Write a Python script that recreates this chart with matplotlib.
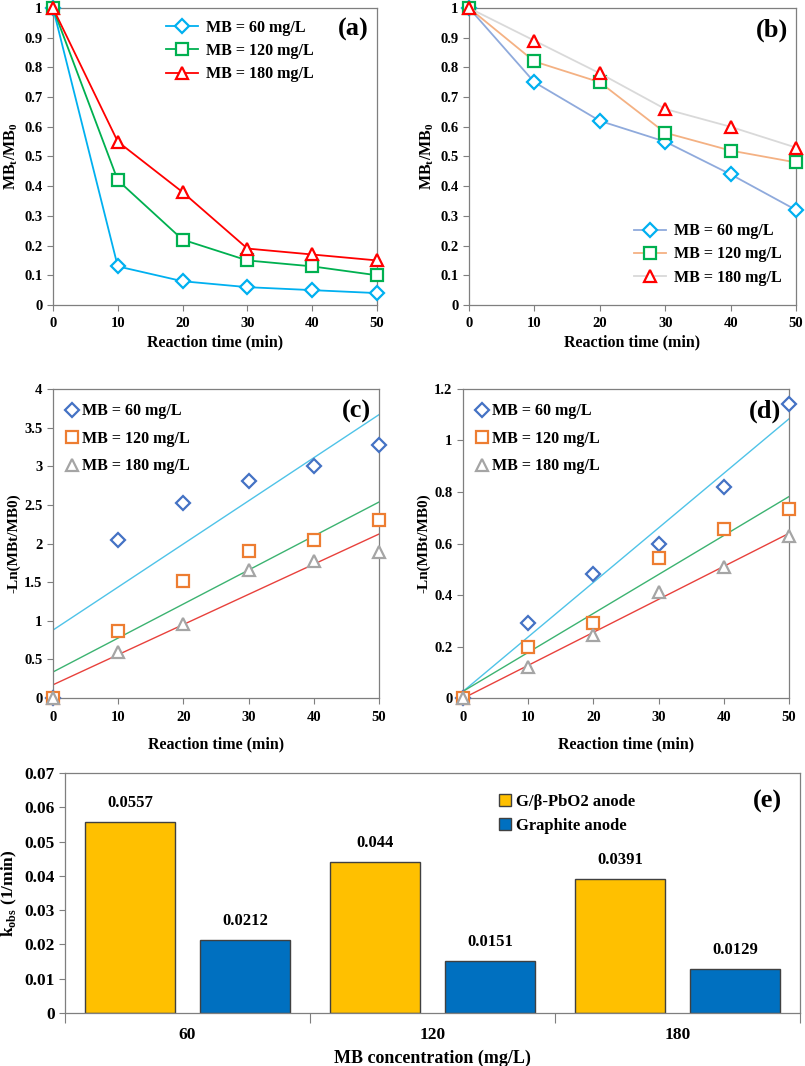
import matplotlib; matplotlib.use("Agg")
import matplotlib.pyplot as plt
import numpy as np

plt.rcParams.update({"font.family": "Liberation Serif", "font.weight": "bold",
    "font.size": 10.5, "axes.labelweight": "bold", "axes.linewidth": 0.9,
    "axes.edgecolor": "#7f7f7f", "xtick.direction": "out", "ytick.direction": "out",
    "xtick.major.size": 4, "ytick.major.size": 4, "xtick.color": "#7f7f7f",
    "ytick.color": "#7f7f7f", "xtick.labelcolor": "black", "ytick.labelcolor": "black",
    "xtick.major.pad": 5, "mathtext.fontset": "custom",
    "mathtext.rm": "Liberation Serif", "mathtext.bf": "Liberation Serif:bold"})

t = [0, 10, 20, 30, 40, 50]
labels = ["MB = 60 mg/L", "MB = 120 mg/L", "MB = 180 mg/L"]

# (a) G/b-PbO2 anode
a60 = [1, 0.13, 0.08, 0.06, 0.05, 0.04]
a120 = [1, 0.42, 0.22, 0.15, 0.13, 0.10]
a180 = [1, 0.55, 0.38, 0.19, 0.17, 0.15]
# (b) graphite anode
b60 = [1, 0.75, 0.62, 0.55, 0.44, 0.32]
b120 = [1, 0.82, 0.75, 0.58, 0.52, 0.48]
b180 = [1, 0.89, 0.78, 0.66, 0.60, 0.53]
# (c) -ln(C/C0), G/b-PbO2
c60 = [0, 2.04, 2.52, 2.81, 3.00, 3.27]
c120 = [0, 0.87, 1.51, 1.90, 2.04, 2.30]
c180 = [0, 0.60, 0.96, 1.66, 1.77, 1.89]
# (d) -ln(C/C0), graphite
d60 = [0, 0.29, 0.48, 0.60, 0.82, 1.14]
d120 = [0, 0.20, 0.29, 0.545, 0.655, 0.735]
d180 = [0, 0.12, 0.245, 0.41, 0.51, 0.63]
# (e) rate constants
conc = ["60", "120", "180"]
k_pbo2 = [0.0557, 0.044, 0.0391]
k_graph = [0.0212, 0.0151, 0.0129]

mk = ["D", "s", "^"]
mcol_ab = ["#00B0F0", "#00B050", "#FF0000"]
mcol_cd = ["#4472C4", "#ED7D31", "#A5A5A5"]
fitcol = ["#4FC3E8", "#3CB371", "#E8413C"]
msz = [7, 9, 9]

fig = plt.figure(figsize=(8.05, 10.66), dpi=100)
axa = fig.add_axes([0.0658, 0.7139, 0.4025, 0.2786])
axb = fig.add_axes([0.5826, 0.7139, 0.4062, 0.2786])
axc = fig.add_axes([0.0658, 0.3452, 0.4050, 0.2899])
axd = fig.add_axes([0.5752, 0.3452, 0.4050, 0.2899])
axe = fig.add_axes([0.0807, 0.0497, 0.9130, 0.2251])

# (a)
for y, m, c, s, lab in zip([a60, a120, a180], mk, mcol_ab, msz, labels):
    axa.plot(t, y, color=c, lw=1.3, marker=m, ms=s, mfc="white", mec=c, mew=1.6,
             label=lab, clip_on=False, zorder=3)
axa.legend(loc="upper left", bbox_to_anchor=(0.35, 0.96), frameon=False, fontsize=11.5,
           handlelength=2.0, handletextpad=0.5, labelspacing=0.45, borderpad=0,
           borderaxespad=0)
axa.text(0.975, 0.965, "(a)", transform=axa.transAxes, ha="right", va="top", fontsize=19)

# (b)
linecol_b = ["#8FAADC", "#F4B183", "#D9D9D9"]
for y, m, c, lc, s, lab in zip([b60, b120, b180], mk, mcol_ab, linecol_b, msz, labels):
    axb.plot(t, y, color=lc, lw=1.3, marker=m, ms=s, mfc="white", mec=c, mew=1.6,
             label=lab, clip_on=False, zorder=3)
axb.legend(loc="lower left", bbox_to_anchor=(0.505, 0.065), frameon=False, fontsize=11.5,
           handlelength=2.0, handletextpad=0.5, labelspacing=0.45, borderpad=0,
           borderaxespad=0)
axb.text(0.975, 0.965, "(b)", transform=axb.transAxes, ha="right", va="top", fontsize=19)

for ax in (axa, axb):
    ax.set_xlim(0, 50); ax.set_ylim(0, 1)
    ax.set_xticks(t)
    ax.set_yticks(np.arange(0, 1.01, 0.1))
    ax.set_yticklabels(["0", "0.1", "0.2", "0.3", "0.4", "0.5", "0.6", "0.7", "0.8", "0.9", "1"])
    ax.set_ylabel("MB$_\\mathbf{t}$/MB$_\\mathbf{0}$", fontsize=11.5, labelpad=3)
    ax.set_xlabel("Reaction time (min)", fontsize=11.5, labelpad=3)

# (c), (d) with linear fits
def kin(ax, data, ymax, step, tag):
    for y, m, c, fc, s, lab in zip(data, mk, mcol_cd, fitcol, msz, labels):
        ax.plot(t, y, ls="none", marker=m, ms=s, mfc="white", mec=c, mew=1.6,
                label=lab, clip_on=False, zorder=3)
        p = np.polyfit(t, y, 1)
        ax.plot([0, 50], np.polyval(p, [0, 50]), color=fc, lw=1.0, zorder=2)
    ax.legend(loc="upper left", frameon=False, fontsize=11.5, handlelength=0.6,
              handletextpad=0.3, labelspacing=0.72, borderaxespad=0.5)
    ax.text(0.975, 0.965, tag, transform=ax.transAxes, ha="right", va="top", fontsize=19)
    ax.set_xlim(0, 50); ax.set_ylim(0, ymax)
    ax.set_xticks(t)
    yt = np.arange(0, ymax + 1e-9, step)
    ax.set_yticks(yt)
    ax.set_yticklabels([f"{v:g}" for v in yt])
    ax.set_ylabel("-Ln(MBt/MB0)", fontsize=11, labelpad=3)
    ax.set_xlabel("Reaction time (min)", fontsize=11.5, labelpad=9)

kin(axc, [c60, c120, c180], 4, 0.5, "(c)")
kin(axd, [d60, d120, d180], 1.2, 0.2, "(d)")

# (e)
x = np.arange(len(conc))
w = 0.37
b1 = axe.bar(x - 0.235, k_pbo2, w, color="#FFC000", edgecolor="#404040", lw=1.0,
             label="G/β-PbO2 anode")
b2 = axe.bar(x + 0.235, k_graph, w, color="#0070C0", edgecolor="#404040", lw=1.0,
             label="Graphite anode")
for b, v in zip(list(b1) + list(b2), k_pbo2 + k_graph):
    axe.text(b.get_x() + b.get_width() / 2, v + 0.0032, f"{v:g}", ha="center",
             va="bottom", fontsize=12)
axe.set_xlim(-0.5, 2.5); axe.set_ylim(0, 0.07)
yt = np.arange(0, 0.0701, 0.01).round(2)
axe.set_yticks(yt)
axe.set_yticklabels([f"{v:g}" for v in yt], fontsize=12.5)
axe.set_xticks([-0.5, 0.5, 1.5, 2.5])
axe.set_xticklabels([])
axe.tick_params(axis="x", which="major", length=7)
axe.set_xticks(x, minor=True)
axe.set_xticklabels(conc, minor=True, fontsize=12.5)
axe.tick_params(axis="x", which="minor", length=0, pad=10)
axe.set_ylabel("k$_\\mathbf{obs}$ (1/min)", fontsize=12.5)
axe.set_xlabel("MB concentration (mg/L)", fontsize=13, labelpad=5)
axe.legend(loc="upper left", bbox_to_anchor=(0.57, 0.975), frameon=False, fontsize=12,
           handlelength=0.7, handleheight=0.7, handletextpad=0.3, labelspacing=0.45)
axe.text(0.975, 0.93, "(e)", transform=axe.transAxes, ha="right", va="top", fontsize=19)

fig.savefig("out.png", dpi=100)
